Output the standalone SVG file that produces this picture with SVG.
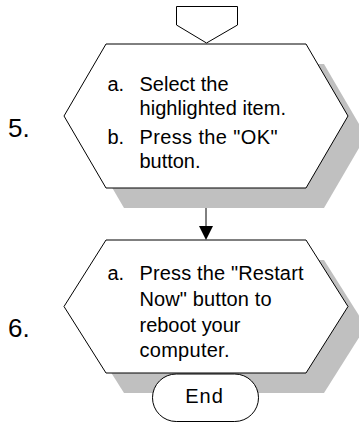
<svg xmlns="http://www.w3.org/2000/svg" width="359" height="423" viewBox="0 0 359 423">
<style>
.sh{fill:#c0c0c0;stroke:none}
.box{fill:#fff;stroke:#000;stroke-width:1}
.t{font-family:"Liberation Sans",Arial,sans-serif;font-size:20px;fill:#000}
.num{font-family:"Liberation Sans",Arial,sans-serif;font-size:26px;fill:#000}
</style>
<defs>
<polygon id="hex1" points="106,44 306,44 348,116 306,188 106,188 64,116"/>
<polygon id="hex2" points="106,240 306,240 348,306.5 306,373 106,373 64,306.5"/>
</defs>
<g id="connectors">
<line x1="206" y1="188" x2="206" y2="227" stroke="#000" stroke-width="1"/>
<polygon points="199,226 213,226 206,240" fill="#000"/>
</g>
<g id="offpage">
<polygon class="box" points="176.5,6.5 237.5,6.5 237.5,25 206.5,43 176.5,25"/>
</g>
<g id="step5">
<use href="#hex1" class="sh" transform="translate(18,20)"/>
<use href="#hex1" class="box"/>
<text class="num" x="8" y="137">5.</text>
<text class="t" x="107.5" y="90.5">a.</text>
<text class="t" x="139.5" y="90.5" textLength="89">Select the</text>
<text class="t" x="139.5" y="115" textLength="146.5">highlighted item.</text>
<text class="t" x="107.5" y="143.5">b.</text>
<text class="t" x="139.5" y="143.5" textLength="138">Press the "OK"</text>
<text class="t" x="139.5" y="168" textLength="61">button.</text>
</g>
<g id="step6">
<use href="#hex2" class="sh" transform="translate(18,20)"/>
<use href="#hex2" class="box"/>
<text class="num" x="8" y="337">6.</text>
<text class="t" x="107.5" y="280">a.</text>
<text class="t" x="139.5" y="280" textLength="164">Press the "Restart</text>
<text class="t" x="139.5" y="305.5" textLength="132">Now" button to</text>
<text class="t" x="139.5" y="331.5" textLength="101">reboot your</text>
<text class="t" x="139.5" y="356.5" textLength="90">computer.</text>
</g>
<g id="end">
<rect class="box" x="152.5" y="374" width="106" height="47.5" rx="23.75"/>
<text class="t" x="204.5" y="403" text-anchor="middle" font-size="19" letter-spacing="1">End</text>
</g>
</svg>
